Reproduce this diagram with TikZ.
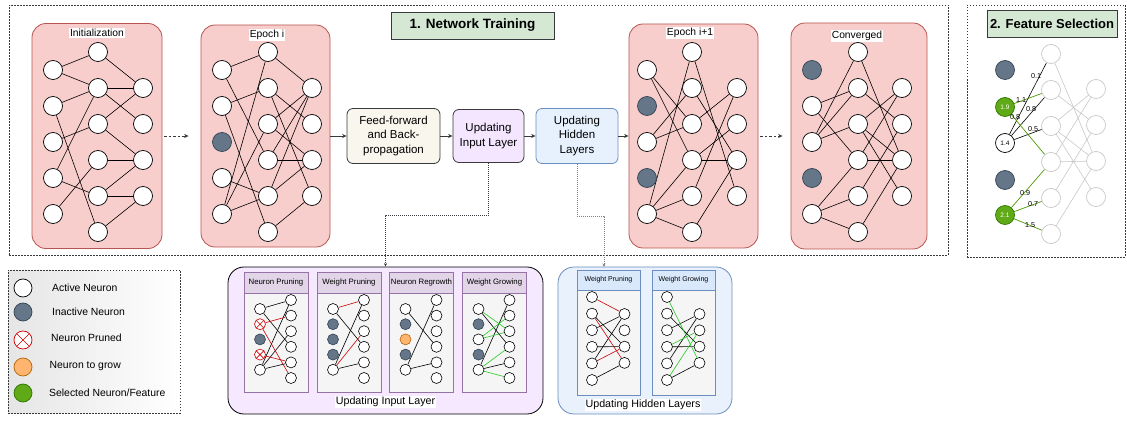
\documentclass[tikz,border=0pt]{standalone}
\usepackage{fontspec}
\setmainfont{Liberation Sans}
\usetikzlibrary{arrows.meta,positioning,calc}
\definecolor{pinkf}{HTML}{F8CECC}
\definecolor{pinkd}{HTML}{B85450}
\definecolor{inact}{HTML}{647687}
\definecolor{inactd}{HTML}{314354}
\definecolor{selg}{HTML}{60A917}
\definecolor{selgd}{HTML}{2D7600}
\definecolor{fselg}{HTML}{4D9900}
\definecolor{growf}{HTML}{FFB570}
\definecolor{growd}{HTML}{B46504}
\definecolor{prunr}{HTML}{CC0000}
\definecolor{grn}{HTML}{22CC22}
\definecolor{titlef}{HTML}{D5E8D4}
\definecolor{fff}{HTML}{F9F7ED}
\definecolor{uif}{HTML}{F4E6FF}
\definecolor{uhf}{HTML}{E6F1FD}
\definecolor{blued}{HTML}{6C8EBF}
\definecolor{purh}{HTML}{E1D5E7}
\definecolor{purd}{HTML}{9673A6}
\definecolor{bodyg}{HTML}{F5F5F5}
\definecolor{hdrb}{HTML}{DAE8FC}
\definecolor{bigp}{HTML}{F6E9FF}
\definecolor{bigb}{HTML}{E8F1FC}
\definecolor{lgray}{HTML}{C8C8C8}
\definecolor{darkb}{HTML}{36393D}
\newcommand{\fsz}[2]{\fontsize{#1}{#2}\selectfont}
\pgfdeclarelayer{bg}
\pgfdeclarelayer{edg}
\pgfsetlayers{bg,edg,main}
\tikzset{
 neu/.style={circle,draw=black,fill=white,line width=0.7pt,minimum size=19pt,inner sep=0pt},
 ina/.style={neu,draw=inactd,fill=inact},
 sel/.style={neu,draw=selgd,fill=selg},
 grw/.style={neu,draw=growd,fill=growf},
 pru/.style={neu,draw=prunr,path picture={\draw[prunr,line width=0.6pt]
   (path picture bounding box.north west) -- (path picture bounding box.south east)
   (path picture bounding box.north east) -- (path picture bounding box.south west);}},
 fgr/.style={neu,draw=lgray},
 snA/.style={neu,minimum size=11pt,line width=0.6pt},
 snI/.style={ina,minimum size=11pt,line width=0.6pt},
 snP/.style={pru,minimum size=11pt,line width=0.6pt},
 snG/.style={grw,minimum size=11pt,line width=0.6pt},
 ed/.style={line width=0.6pt,draw=black},
 redge/.style={line width=0.6pt,draw=prunr},
 gedge/.style={line width=0.6pt,draw=grn},
 fgedge/.style={line width=0.7pt,draw=fselg},
 gryedge/.style={line width=0.6pt,draw=lgray},
 panel/.style={draw=pinkd,fill=pinkf,rounded corners=14pt,line width=0.8pt,inner sep=0pt},
 plabel/.style={fill=white,inner sep=1.2pt,font=\fsz{10.3}{12}},
 box/.style={rounded corners=6pt,line width=0.8pt,align=center,font=\fsz{11.5}{14.5},inner sep=0pt},
 frame/.style={draw=darkb,dash pattern=on 1.5pt off 1.5pt,line width=0.6pt,inner sep=0pt},
 titlebox/.style={draw=darkb,fill=titlef,line width=0.6pt,inner sep=0pt,font=\bfseries\fsz{13.5}{16}},
 arr/.style={-{Stealth[length=4.5pt,width=4pt]},line width=0.8pt,draw=darkb},
 darr/.style={arr,dash pattern=on 2.5pt off 2pt},
 conn/.style={-{Stealth[length=3.5pt,width=3pt]},line width=0.5pt,dash pattern=on 1pt off 1pt,draw=darkb},
 gconn/.style={conn,draw=gray},
 hdrP/.style={draw=purd,fill=purh,line width=0.6pt,inner sep=0pt,minimum width=64pt,minimum height=21pt,font=\fsz{7.8}{9}},
 bodyP/.style={draw=purd,fill=bodyg,line width=0.6pt,inner sep=0pt,minimum width=64pt,minimum height=99pt},
 hdrB/.style={draw=blued,fill=hdrb,line width=0.6pt,inner sep=0pt,minimum width=63pt,minimum height=20pt,font=\fsz{7}{8}},
 bodyB/.style={draw=blued,fill=bodyg,line width=0.6pt,inner sep=0pt,minimum width=63pt,minimum height=105pt},
 wl/.style={inner sep=0pt,font=\fsz{7.2}{8}},
 legt/.style={anchor=west,inner sep=0pt,font=\fsz{10.4}{12}},
}
\newcommand{\netnodes}[5]{%
 \foreach \s [count=\k] in {#5} \node[\s] (#1i\k) at (#2,{70+36*(\k-1)}) {};
 \foreach \k in {1,...,6} \node[neu] (#1h\k) at (#3,{52+36*(\k-1)}) {};
 \foreach \k in {1,...,4} \node[neu] (#1o\k) at (#4,{88+36*(\k-1)}) {};
}
\newcommand{\subnodesI}[3]{%
 \foreach \s [count=\k] in {#3} \node[\s] (#1l\k) at ({#2-16},{309+15.2*(\k-1)}) {};
 \foreach \k in {1,...,6} \node[snA] (#1r\k) at ({#2+15},{300+15.6*(\k-1)}) {};
}
\newcommand{\subnodesH}[2]{%
 \foreach \k in {1,...,6} \node[snA] (#1l\k) at ({#2-16.5},{297+16.6*(\k-1)}) {};
 \foreach \k in {1,...,4} \node[snA] (#1r\k) at ({#2+16},{314+16.3*(\k-1)}) {};
}
\begin{document}
\begin{tikzpicture}[x=1pt,y=-1pt]
\useasboundingbox (0,0) rectangle (1127,422);

% ---------- frames ----------
\node[frame,minimum width=939pt,minimum height=250pt] (NT) at (478.5,130) {};
\node[frame,minimum width=158pt,minimum height=252pt] (FS) at (1046,131) {};
\node[titlebox,minimum width=163pt,minimum height=27pt] (T1) at (472.5,25.5) {1. Network Training};
\node[titlebox,minimum width=130pt,minimum height=27pt,font=\bfseries\fsz{13}{16}] (T2) at (1052,23.5) {2. Feature Selection};

% ---------- background boxes ----------
\begin{pgfonlayer}{bg}
\node[panel,minimum width=130pt,minimum height=225pt] (P1) at (97,136) {};
\node[panel,minimum width=129pt,minimum height=222pt] (P2) at (265.5,136) {};
\node[panel,minimum width=129pt,minimum height=224pt] (P3) at (693.5,136) {};
\node[panel,minimum width=136pt,minimum height=226pt] (P4) at (859,136) {};
\node[draw=black,fill=bigp,rounded corners=16pt,line width=0.8pt,minimum width=315pt,minimum height=147pt] (IB) at (385.5,340.5) {};
\foreach \c [count=\n] in {276,349,421.5,494.5} \node[bodyP] (sb\n) at (\c,342.5) {};
\node[draw=blued,fill=bigb,rounded corners=16pt,line width=0.8pt,minimum width=174pt,minimum height=147pt] (HB) at (645,340.5) {};
\node[bodyB] (hb1) at (608.5,342.5) {};
\node[bodyB] (hb2) at (683.5,342.5) {};
\end{pgfonlayer}
\node[plabel] (L1) at (97,33) {Initialization};
\node[plabel] (L2) at (267,35) {Epoch i};
\node[plabel] (L3) at (690,33) {Epoch i+1};
\node[plabel] (L4) at (857,36) {Converged};

\netnodes{a}{53}{98}{143}{neu,neu,neu,neu,neu}
\netnodes{b}{222}{268}{312}{neu,neu,ina,neu,neu}
\netnodes{c}{647}{692}{737}{neu,ina,neu,ina,neu}
\netnodes{d}{812}{858}{902}{ina,neu,neu,ina,neu}

\begin{pgfonlayer}{edg}
\foreach \u/\v in {i1/h1,i1/h2,i2/h2,i2/h6,i3/h3,i4/h2,i4/h5,i5/h4,h1/o1,h2/o1,h2/o2,h3/o1,h3/o3,h4/o3,h5/o3,h5/o4,h6/o4}
  \draw[ed] (a\u) -- (a\v);
\foreach \u/\v in {i1/h1,i1/h4,i2/h2,i2/h6,i4/h5,i5/h1,i5/h3,i5/h5,h1/o1,h2/o2,h2/o4,h3/o1,h3/o3,h4/o3,h4/o1,h5/o1,h5/o3,h6/o4}
  \draw[ed] (b\u) -- (b\v);
\foreach \u/\v in {i1/h3,i1/h4,i3/h2,i3/h3,i5/h1,i5/h4,i5/h5,i5/h6,h1/o4,h2/o3,h3/o1,h4/o2,h4/o3,h5/o1,h6/o3}
  \draw[ed] (c\u) -- (c\v);
\foreach \u/\v in {i2/h2,i2/h4,i3/h1,i3/h2,i3/h3,i5/h4,i5/h5,i5/h6,h1/o3,h2/o2,h3/o1,h3/o3,h3/o4,h4/o1,h4/o3,h5/o2,h6/o3}
  \draw[ed] (d\u) -- (d\v);
\end{pgfonlayer}

% ---------- middle boxes ----------
\node[box,draw=darkb,fill=fff,minimum width=93pt,minimum height=55pt] (FF) at (393.5,136) {Feed-forward\\and Back-\\propagation};
\node[box,draw=darkb,fill=uif,minimum width=71pt,minimum height=53pt] (UI) at (488.5,136) {Updating\\Input Layer};
\node[box,draw=blued,fill=uhf,minimum width=82pt,minimum height=55pt] (UH) at (577,136) {Updating\\Hidden\\Layers};

\draw[darr,shorten <=2pt,shorten >=12pt] (P1) -- (P2);
\draw[arr] (P2) -- (FF);
\draw[arr] (FF) -- (UI);
\draw[arr] (UI) -- (UH);
\draw[arr] (UH) -- (P3);
\draw[darr,shorten <=2pt,shorten >=8pt] (P3) -- (P4);

% ---------- feature selection ----------
\node[ina] (fi1) at (1005,70) {};
\node[sel,text=white,font=\fsz{6.5}{7}] (fi2) at (1005,107) {1.9};
\node[neu,font=\fsz{6.5}{7}] (fi3) at (1005,143) {1.4};
\node[ina] (fi4) at (1005,180) {};
\node[sel,text=white,font=\fsz{6.5}{7}] (fi5) at (1005,215) {2.1};
\foreach \k in {1,...,6} \node[fgr] (fh\k) at (1051,{54+36*(\k-1)}) {};
\foreach \k in {1,...,4} \node[fgr] (fo\k) at (1096,{89+36*(\k-1)}) {};
\begin{pgfonlayer}{edg}
\foreach \u/\v in {h1/o3,h2/o2,h3/o1,h3/o3,h3/o4,h4/o1,h4/o3,h5/o2,h6/o3}
  \draw[gryedge] (f\u) -- (f\v);
\draw[ed] (fi3) -- (fh1);
\draw[ed] (fi3) -- (fh2);
\draw[ed] (fi3) -- (fh3);
\draw[fgedge] (fi2) -- (fh2);
\draw[fgedge] (fi2) -- (fh4);
\draw[fgedge] (fi5) -- (fh4);
\draw[fgedge] (fi5) -- (fh5);
\draw[fgedge] (fi5) -- (fh6);
\end{pgfonlayer}
\node[wl] (w1) at (1036,76) {0.1};
\node[wl] (w2) at (1021,100) {1.1};
\node[wl] (w3) at (1031,109) {0.8};
\node[wl] (w4) at (1015,117) {0.8};
\node[wl] (w5) at (1033,129) {0.5};
\node[wl] (w6) at (1025,193) {0.9};
\node[wl] (w7) at (1033,204) {0.7};
\node[wl] (w8) at (1030,225) {1.5};

% ---------- legend ----------
\node[frame,left color=gray!20,right color=white,minimum width=172pt,minimum height=143pt] (LG) at (94,341.5) {};
\node[neu,minimum size=18pt] (lg1) at (23,288) {};
\node[ina,minimum size=18pt] (lg2) at (23,312) {};
\node[pru,minimum size=18pt] (lg3) at (23,340) {};
\node[grw,minimum size=18pt] (lg4) at (23,367) {};
\node[sel,minimum size=18pt] (lg5) at (23,393) {};
\node[legt] (lt1) at (52,288) {Active Neuron};
\node[legt] (lt2) at (52,312) {Inactive Neuron};
\node[legt] (lt3) at (51,338) {Neuron Pruned};
\node[legt] (lt4) at (49.5,366) {Neuron to grow};
\node[legt] (lt5) at (49,393) {Selected Neuron/Feature};

% ---------- updating input layer ----------
\node[fill=white,inner sep=1pt,font=\fsz{10.7}{12}] (IBL) at (385.5,402) {Updating Input Layer};
\foreach \c/\t [count=\n] in {276/Neuron Pruning,349/Weight Pruning,421.5/Neuron Regrowth,494.5/Weight Growing}
  \node[hdrP] (sh\n) at (\c,282.5) {\t};
\subnodesI{pa}{276}{snA,snP,snI,snP,snA}
\subnodesI{pb}{349}{snA,snI,snI,snI,snA}
\subnodesI{pc}{421.5}{snA,snI,snG,snI,snA}
\subnodesI{pd}{494.5}{snA,snI,snA,snI,snA}
\begin{pgfonlayer}{edg}
\foreach \u/\v in {l1/r1,l1/r4,l5/r1,l5/r3,l5/r5} \draw[ed] (pa\u) -- (pa\v);
\foreach \u/\v in {l2/r2,l2/r6,l4/r5} \draw[redge] (pa\u) -- (pa\v);
\foreach \u/\v in {l1/r4,l5/r1,l5/r5} \draw[ed] (pb\u) -- (pb\v);
\foreach \u/\v in {l1/r1,l5/r3} \draw[redge] (pb\u) -- (pb\v);
\foreach \u/\v in {l1/r4,l5/r1,l5/r5} \draw[ed] (pc\u) -- (pc\v);
\foreach \u/\v in {l1/r4,l5/r1,l5/r5} \draw[ed] (pd\u) -- (pd\v);
\foreach \u/\v in {l1/r3,l3/r2,l3/r3,l5/r4,l5/r6} \draw[gedge] (pd\u) -- (pd\v);
\end{pgfonlayer}

% ---------- updating hidden layers ----------
\node[fill=white,inner sep=1pt,font=\fsz{10.7}{12}] (HBL) at (643,405) {Updating Hidden Layers};
\node[hdrB] (hh1) at (608.5,280) {Weight Pruning};
\node[hdrB] (hh2) at (683.5,280) {Weight Growing};
\subnodesH{qa}{608.5}
\subnodesH{qb}{683.5}
\begin{pgfonlayer}{edg}
\foreach \u/\v in {l2/r3,l3/r1,l4/r3,l5/r1,l6/r4} \draw[ed] (qa\u) -- (qa\v);
\foreach \u/\v in {l1/r1,l2/r4,l5/r3} \draw[redge] (qa\u) -- (qa\v);
\foreach \u/\v in {l2/r3,l3/r1,l4/r3,l5/r1,l6/r4} \draw[ed] (qb\u) -- (qb\v);
\foreach \u/\v in {l1/r4,l4/r2,l6/r2} \draw[gedge] (qb\u) -- (qb\v);
\end{pgfonlayer}

% ---------- connectors to detail boxes ----------
\coordinate (hbin) at (604,267);
\draw[conn] (UI.south) -- ++(0,52) -| (IB.north);
\draw[gconn] (UH.south) -- ++(0,52) -| (hbin);
\end{tikzpicture}
\end{document}
